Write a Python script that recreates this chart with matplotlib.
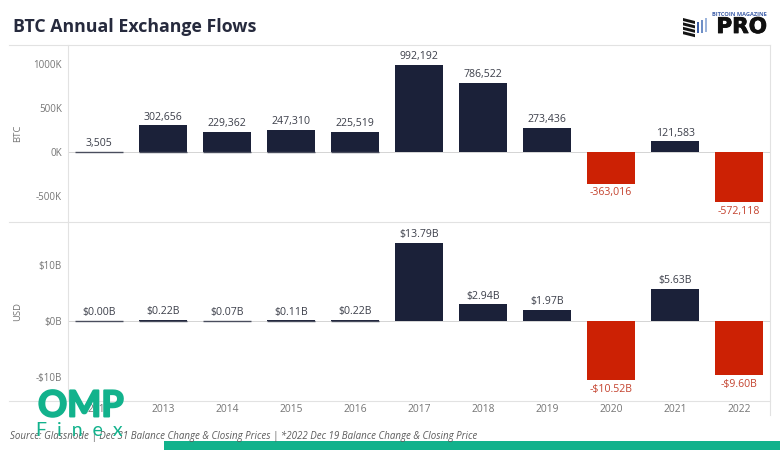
import numpy as np
import matplotlib
matplotlib.use('Agg')
import matplotlib.pyplot as plt
import matplotlib.patheffects as pe
from matplotlib.patches import Polygon, Rectangle

years = ['2012', '2013', '2014', '2015', '2016', '2017', '2018', '2019', '2020', '2021', '2022']
btcFlows = [3505, 302656, 229362, 247310, 225519, 992192, 786522, 273436, -363016, 121583, -572118]
btcLabels = ['3,505', '302,656', '229,362', '247,310', '225,519', '992,192', '786,522', '273,436',
             '-363,016', '121,583', '-572,118']
usdFlows = [0.00, 0.22, 0.07, 0.11, 0.22, 13.79, 2.94, 1.97, -10.52, 5.63, -9.60]
usdLabels = ['$0.00B', '$0.22B', '$0.07B', '$0.11B', '$0.22B', '$13.79B', '$2.94B', '$1.97B',
             '-$10.52B', '$5.63B', '-$9.60B']
btcTicks = [-500000, 0, 500000, 1000000]
btcTickLabels = ['-500K', '0K', '500K', '1000K']
usdTicks = [-10, 0, 10]
usdTickLabels = ['-$10B', '$0B', '$10B']

NAVY = '#1b2139'
RED = '#cc2104'
GREEN = '#12b28c'
GREY = '#757575'
LINE = '#e2e2e2'
W, H = 780, 450

plt.rcParams['font.family'] = ['Open Sans', 'DejaVu Sans']


def box(x0, y0, x1, y1):
    """pixel box (from top left) to figure fractions"""
    return [x0 / W, 1 - y1 / H, (x1 - x0) / W, (y1 - y0) / H]


def drawPanel(ax, values, labels, ticks, tickLabels, ylabel):
    colors = [RED if v < 0 else NAVY for v in values]
    x = np.arange(len(values))
    ax.bar(x, values, width=0.75, color=colors, linewidth=0)
    ax.axhline(0, color='#d4d4d4', lw=0.7, zorder=0)
    # very small values still get a thin dark line in the original
    ax.bar(x[:5], [0] * 5, width=0.75, bottom=0, edgecolor='#4a4e5e', linewidth=1.0, fill=False)
    for xi, v, s in zip(x, values, labels):
        if v < 0:
            ax.annotate(s, (xi, v), xytext=(0, -2.5), textcoords='offset points', ha='center', va='top',
                        fontsize=7.6, color='#c4432f')
        else:
            ax.annotate(s, (xi, v), xytext=(0, 2), textcoords='offset points', ha='center', va='bottom',
                        fontsize=7.6, color='#3c3f4a')
    ax.set_xlim(-0.49, 10.48)
    ax.set_yticks(ticks)
    ax.set_yticklabels(tickLabels, fontsize=7, color=GREY)
    ax.set_ylabel(ylabel, fontsize=6.8, color=GREY)
    ax.yaxis.set_label_coords(-0.065, 0.5)
    ax.tick_params(axis='both', length=0, pad=4)
    for side in ['top', 'right', 'bottom']:
        ax.spines[side].set_visible(False)
    ax.spines['left'].set_color(LINE)
    ax.spines['left'].set_linewidth(0.8)


fig = plt.figure(figsize=(W / 100, H / 100), dpi=100, facecolor='white')

# btc: 0K at y=152, 1000K at y=64
ax1 = fig.add_axes(box(67.5, 45, 770, 222))
drawPanel(ax1, btcFlows, btcLabels, btcTicks, btcTickLabels, 'BTC')
ax1.set_ylim(-(222 - 152) / 88 * 1e6, (152 - 45) / 88 * 1e6)
ax1.set_xticks([])

# usd: $0B at y=321, $10B at y=265
ax2 = fig.add_axes(box(67.5, 222, 770, 401))
drawPanel(ax2, usdFlows, usdLabels, usdTicks, usdTickLabels, 'USD')
ax2.set_ylim(-(401 - 321) / 5.65, (321 - 222) / 5.65)
ax2.set_xticks(np.arange(len(years)))
ax2.set_xticklabels(years, fontsize=7.4, color=GREY)
ax2.tick_params(axis='x', pad=2)

# page furniture in pixel coordinates
bg = fig.add_axes([0, 0, 1, 1], zorder=5)
bg.set_xlim(0, W)
bg.set_ylim(H, 0)
bg.axis('off')
bg.patch.set_alpha(0)
bg.plot([9, 770], [45, 45], color=LINE, lw=0.8)
bg.plot([9, 770], [222, 222], color=LINE, lw=0.8)
bg.plot([9, 770], [401, 401], color=LINE, lw=0.8)
bg.plot([770, 770], [45, 415], color=LINE, lw=0.8)
bg.text(13, 27.5, 'BTC Annual Exchange Flows', fontsize=12.8, fontweight='bold', color='#262a3d', va='center', ha='left')
bg.text(10, 436, 'Source: Glassnode | Dec 31 Balance Change & Closing Prices | *2022 Dec 19 Balance Change & Closing Price',
        fontsize=7, style='italic', color='#5c5c5c', va='center', ha='left')

# logo
bg.text(767, 27, 'PRO', fontsize=15.5, fontweight='bold', color='#101010', ha='right', va='center',
        family='DejaVu Sans', path_effects=[pe.withStroke(linewidth=0.6, foreground='#101010')])
bg.text(767, 14.5, 'BITCOIN MAGAZINE', fontsize=4.1, fontweight='bold', color='#3f5fa8', ha='right', va='center')
for i in range(4):
    y0 = 18 + i * 4.4
    bg.add_patch(Polygon([[683, y0], [695, y0 + 3], [695, y0 + 6], [683, y0 + 3]], color='#141414', lw=0))
for i, (xb, c) in enumerate(zip([697, 701, 705], ['#3c5ea6', '#6f8fc6', '#9db5dc'])):
    bg.add_patch(Rectangle((xb, 22 - i * 2), 2.4, 11 + i * 1.5, color=c, lw=0))

# watermark
bg.add_patch(Rectangle((164, 441), W - 164, 9, color=GREEN, lw=0))
bg.text(38, 406, 'OMP', fontsize=26, fontweight='bold', color=GREEN, ha='left', va='center', family='Lato', zorder=6,
        path_effects=[pe.withStroke(linewidth=1.4, foreground=GREEN)])
bg.text(36, 431, 'F  i  n  e  x', fontsize=14, color=GREEN, ha='left', va='center', family='Lato', zorder=6)

fig.savefig('out.png', dpi=100)
